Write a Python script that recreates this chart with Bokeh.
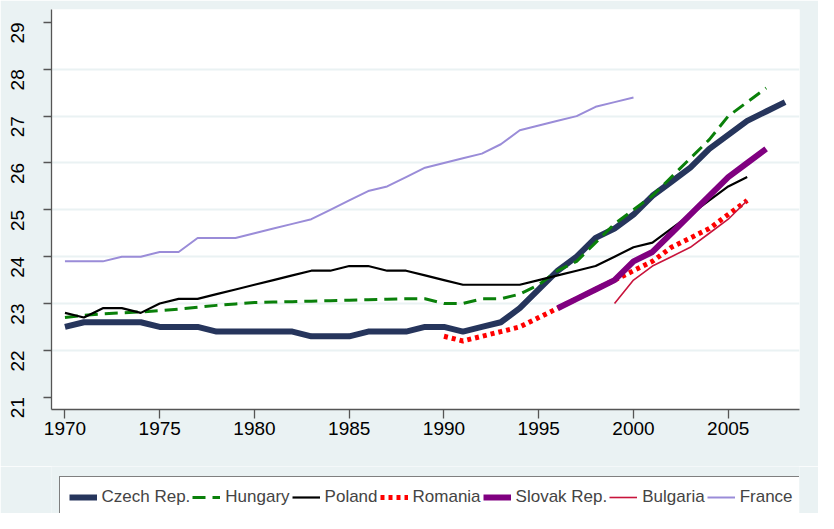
import math
from bokeh.plotting import figure
from bokeh.layouts import column
from bokeh.models import FixedTicker
from bokeh.embed import file_html
from bokeh.resources import INLINE

# ---- data ----
years_czech = list(range(1970, 2009))
czech = [22.5, 22.6, 22.6, 22.6, 22.6, 22.5, 22.5, 22.5, 22.4, 22.4,
         22.4, 22.4, 22.4, 22.3, 22.3, 22.3, 22.4, 22.4, 22.4, 22.5,
         22.5, 22.4, 22.5, 22.6, 22.9, 23.3, 23.7, 24.0, 24.4, 24.6,
         24.9, 25.3, 25.6, 25.9, 26.3, 26.6, 26.9, 27.1, 27.3]

years_hungary = list(range(1970, 2008))
hungary = [22.70, 22.75, 22.78, 22.80, 22.82, 22.85, 22.88, 22.92, 22.96, 22.99,
           23.02, 23.03, 23.04, 23.05, 23.06, 23.07, 23.08, 23.09, 23.10, 23.10,
           23.0, 23.0, 23.1, 23.1, 23.2, 23.4, 23.7, 23.9, 24.3, 24.7,
           25.0, 25.3, 25.7, 26.1, 26.5, 27.0, 27.3, 27.6]

years_poland = list(range(1970, 2007))
poland = [22.8, 22.7, 22.9, 22.9, 22.8, 23.0, 23.1, 23.1, 23.2, 23.3,
          23.4, 23.5, 23.6, 23.7, 23.7, 23.8, 23.8, 23.7, 23.7, 23.6,
          23.5, 23.4, 23.4, 23.4, 23.4, 23.5, 23.6, 23.7, 23.8, 24.0,
          24.2, 24.3, 24.6, 24.9, 25.2, 25.5, 25.7]

years_romania = list(range(1990, 2007))
romania = [22.3, 22.2, 22.3, 22.4, 22.5, 22.7, 22.9, 23.1, 23.3, 23.5,
           23.7, 23.9, 24.2, 24.4, 24.6, 24.9, 25.2]

years_slovak = list(range(1996, 2008))
slovak = [22.9, 23.1, 23.3, 23.5, 23.9, 24.1, 24.5, 24.9, 25.3, 25.7, 26.0, 26.3]

years_bulgaria = list(range(1999, 2007))
bulgaria = [23.0, 23.5, 23.8, 24.0, 24.2, 24.5, 24.8, 25.2]

years_france = list(range(1970, 2001))
france = [23.9, 23.9, 23.9, 24.0, 24.0, 24.1, 24.1, 24.4, 24.4, 24.4,
          24.5, 24.6, 24.7, 24.8, 25.0, 25.2, 25.4, 25.5, 25.7, 25.9,
          26.0, 26.1, 26.2, 26.4, 26.7, 26.8, 26.9, 27.0, 27.2, 27.3, 27.4]

x_ticks = [1970, 1975, 1980, 1985, 1990, 1995, 2000, 2005]
y_ticks = [21, 22, 23, 24, 25, 26, 27, 28, 29]
y_grid_ticks = [22, 23, 24, 25, 26, 27, 28]

series = [
    ("Czech Rep.", years_czech, czech, dict(line_color="#26355C", line_width=6)),
    ("Hungary", years_hungary, hungary, dict(line_color="#0A800A", line_width=3, line_dash="13 7")),
    ("Poland", years_poland, poland, dict(line_color="black", line_width=2.2)),
    ("Romania", years_romania, romania, dict(line_color="#FF0000", line_width=5, line_dash="4 4")),
    ("Slovak Rep.", years_slovak, slovak, dict(line_color="#800080", line_width=6)),
    ("Bulgaria", years_bulgaria, bulgaria, dict(line_color="#C8143C", line_width=1.6)),
    ("France", years_france, france, dict(line_color="#9A8CD8", line_width=2)),
]

BG = "#EAF2F3"
FONT = "Liberation Sans"

# ---- main chart ----
p = figure(width=818, height=466, output_backend="svg", toolbar_location=None,
           x_range=(1969.29, 2008.76), y_range=(20.737, 29.277),
           min_border_left=51, min_border_right=19, min_border_top=9,
           min_border_bottom=57)

p.border_fill_color = BG
p.background_fill_color = "white"
p.outline_line_color = None

p.xgrid.visible = False
p.ygrid.ticker = FixedTicker(ticks=y_grid_ticks)
p.ygrid.grid_line_color = BG
p.ygrid.grid_line_width = 2

AX = "#555555"
p.xaxis.ticker = FixedTicker(ticks=x_ticks)
p.yaxis.ticker = FixedTicker(ticks=y_ticks)
for ax in (p.xaxis[0], p.yaxis[0]):
    ax.axis_line_color = AX
    ax.axis_line_width = 1.3
    ax.major_tick_line_color = AX
    ax.major_tick_line_width = 1.3
    ax.major_tick_in = 0
    ax.minor_tick_line_color = None
    ax.major_label_text_font = FONT
    ax.major_label_text_font_size = "19px"
    ax.major_label_text_color = "black"
p.xaxis.major_tick_out = 9
p.xaxis.major_label_standoff = 3
p.yaxis.major_tick_out = 8
p.yaxis.major_label_standoff = 26
p.yaxis.major_label_orientation = math.pi / 2

for name, xs, ys, style in series:
    p.line(xs, ys, **style)

# ---- legend strip: same series, drawn outside this strip's ranges so only keys show ----
q = figure(width=818, height=47, output_backend="svg", toolbar_location=None,
           x_axis_type=None, y_axis_type=None, x_range=(0, 1), y_range=(0, 1),
           min_border_left=0, min_border_right=0, min_border_top=0,
           min_border_bottom=0)
q.border_fill_color = BG
q.background_fill_color = BG
q.outline_line_color = None
q.xgrid.visible = False
q.ygrid.visible = False
for name, xs, ys, style in series:
    q.line(xs, ys, legend_label=name, **style)

lg = q.legend[0]
lg.orientation = "horizontal"
lg.location = (7.5, -5)
lg.border_line_color = "black"
lg.border_line_width = 1
lg.background_fill_color = "white"
lg.background_fill_alpha = 1
lg.label_text_font = FONT
lg.label_text_font_size = "17px"
lg.glyph_width = 28
lg.glyph_height = 22
lg.label_standoff = 5
lg.spacing = 2
lg.padding = 9
lg.margin = 0

page = column(p, q, spacing=0)
open("out.html", "w").write(file_html(page, INLINE))
